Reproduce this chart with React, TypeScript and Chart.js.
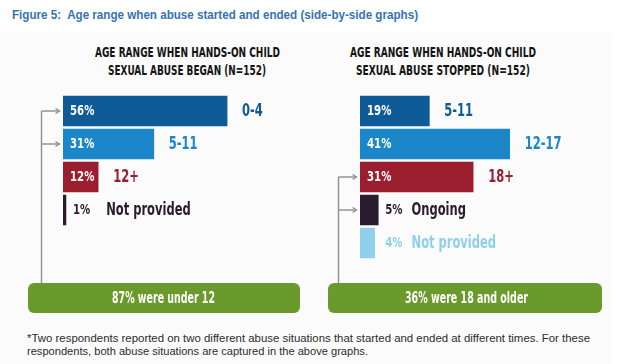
import React, { useEffect, useLayoutEffect, useRef } from "react";
import { Chart, registerables } from "chart.js";

Chart.register(...registerables);

// ---------- data ----------
const figureTitle = "Figure 5:  Age range when abuse started and ended (side-by-side graphs)";

const leftTitleLines = ["AGE RANGE WHEN HANDS-ON CHILD", "SEXUAL ABUSE BEGAN (N=152)"];
const leftCategories = ["0-4", "5-11", "12+", "Not provided"];
const leftValues = [56, 31, 12, 1];
const leftBracket = ["0-4", "5-11"];
const leftSummary = "87% were under 12";

const rightTitleLines = ["AGE RANGE WHEN HANDS-ON CHILD", "SEXUAL ABUSE STOPPED (N=152)"];
const rightCategories = ["5-11", "12-17", "18+", "Ongoing", "Not provided"];
const rightValues = [19, 41, 31, 5, 4];
const rightBracket = ["18+", "Ongoing"];
const rightSummary = "36% were 18 and older";

const footnoteLines = [
  "*Two respondents reported on two different abuse situations that started and ended at different times. For these",
  "respondents, both abuse situations are captured in the above graphs.",
];

// ---------- styles ----------
const DARK_BLUE = "#0f5b98";
const MID_BLUE = "#1b87c9";
const DARK_RED = "#9b1e2f";
const DARK_PURPLE = "#2a1b2f";
const LIGHT_BLUE = "#8fd1eb";
const GREEN = "#6a992c";

const leftColors = [DARK_BLUE, MID_BLUE, DARK_RED, DARK_PURPLE];
const rightColors = [DARK_BLUE, MID_BLUE, DARK_RED, DARK_PURPLE, LIGHT_BLUE];

const COND = "'DejaVu Sans Condensed', 'DejaVu Sans', sans-serif";

function condText(
  ctx: CanvasRenderingContext2D,
  text: string,
  x: number,
  y: number,
  size: number,
  color: string,
  sx: number
) {
  ctx.save();
  ctx.font = `bold ${size}px ${COND}`;
  ctx.fillStyle = color;
  ctx.textBaseline = "middle";
  ctx.textAlign = "left";
  ctx.translate(x, y);
  ctx.scale(sx, 1);
  ctx.fillText(text, 0, 0);
  const w = ctx.measureText(text).width * sx;
  ctx.restore();
  return w;
}

function makeLabelPlugin(colors: string[], bracket: string[], gapOut: number) {
  return {
    id: "barLabels",
    afterDatasetsDraw(chart: any) {
      const ctx: CanvasRenderingContext2D = chart.ctx;
      const meta = chart.getDatasetMeta(0);
      const area = chart.chartArea;
      const values = chart.data.datasets[0].data as number[];
      const labels = chart.data.labels as string[];
      const bars = meta.data.map((b: any) => b.getProps(["x", "y", "base"], true));
      let outX = 0;
      bars.forEach((b: any) => {
        if (b.x - b.base < 30) outX = Math.max(outX, b.x + 7);
      });
      bars.forEach((b: any, i: number) => {
        const w = b.x - b.base;
        const pct = values[i] + "%";
        let catX: number;
        if (w >= 30) {
          condText(ctx, pct, b.base + 7, b.y + 0.5, 14.5, "#ffffff", 0.78);
          catX = b.x + 15;
        } else {
          const pw = condText(ctx, pct, outX, b.y + 0.5, 14.5, colors[i], 0.78);
          catX = outX + pw + gapOut;
        }
        condText(ctx, labels[i], catX, b.y + 0.5, 17.5, colors[i], 0.73);
      });
      // bracket connectors
      const idx = bracket.map((l) => labels.indexOf(l));
      const lx = area.left - 21.5;
      const topY = bars[idx[0]].y;
      ctx.save();
      ctx.strokeStyle = "#8f8f8f";
      ctx.lineWidth = 1.4;
      ctx.beginPath();
      ctx.moveTo(lx, topY);
      ctx.lineTo(lx, chart.height);
      ctx.stroke();
      idx.forEach((k) => {
        const y = bars[k].y;
        ctx.beginPath();
        ctx.moveTo(lx, y);
        ctx.lineTo(area.left - 4, y);
        ctx.stroke();
        ctx.beginPath();
        ctx.moveTo(area.left - 7.5, y - 2.5);
        ctx.lineTo(area.left - 3.5, y);
        ctx.lineTo(area.left - 7.5, y + 2.5);
        ctx.stroke();
      });
      ctx.restore();
    },
  };
}

type BarChartProps = {
  categories: string[];
  values: number[];
  colors: string[];
  bracket: string[];
  left: number;
  top: number;
  width: number;
  height: number;
  padLeft: number;
  padTop: number;
  padBottom: number;
  max: number;
  pxPer: number;
  gapOut: number;
};

function BarChart(p: BarChartProps) {
  const ref = useRef<HTMLCanvasElement>(null);
  useEffect(() => {
    if (!ref.current) return;
    const padRight = p.width - p.padLeft - p.max * p.pxPer;
    const chart = new Chart(ref.current, {
      type: "bar",
      data: {
        labels: p.categories,
        datasets: [
          {
            data: p.values,
            backgroundColor: p.colors,
            borderWidth: 0,
            barThickness: 30,
          },
        ],
      },
      options: {
        indexAxis: "y",
        animation: false,
        responsive: false,
        maintainAspectRatio: false,
        devicePixelRatio: 1,
        layout: {
          padding: { left: p.padLeft, right: padRight, top: p.padTop, bottom: p.padBottom },
        },
        scales: {
          x: { display: false, min: 0, max: p.max },
          y: { display: false },
        },
        plugins: {
          legend: { display: false },
          tooltip: { enabled: false },
          title: { display: false },
        },
      } as any,
      plugins: [makeLabelPlugin(p.colors, p.bracket, p.gapOut)],
    });
    return () => chart.destroy();
  }, []);
  return (
    <canvas
      ref={ref}
      width={p.width}
      height={p.height}
      style={{ position: "absolute", left: p.left, top: p.top, width: p.width, height: p.height }}
    />
  );
}

function FitText({
  text,
  width,
  left,
  cy,
  lineHeight,
  style,
}: {
  text: string;
  width: number;
  left: number;
  cy: number;
  lineHeight: number;
  style: React.CSSProperties;
}) {
  const ref = useRef<HTMLSpanElement>(null);
  useLayoutEffect(() => {
    const el = ref.current;
    if (!el) return;
    el.style.transform = "none";
    const w = el.getBoundingClientRect().width;
    if (w > 0) el.style.transform = `scaleX(${width / w})`;
  }, [text, width]);
  return (
    <span
      ref={ref}
      style={{
        position: "absolute",
        left,
        top: cy - lineHeight / 2,
        lineHeight: lineHeight + "px",
        height: lineHeight,
        display: "inline-block",
        whiteSpace: "pre",
        transformOrigin: "left center",
        ...style,
      }}
    >
      {text}
    </span>
  );
}

const chartTitleStyle: React.CSSProperties = {
  fontFamily: COND,
  fontWeight: "bold",
  fontSize: 14.5,
  color: "#141414",
};
const summaryStyle: React.CSSProperties = {
  fontFamily: COND,
  fontWeight: "bold",
  fontSize: 15.5,
  color: "#ffffff",
};
const footStyle: React.CSSProperties = {
  fontFamily: "'Liberation Sans', Arial, sans-serif",
  fontSize: 11.5,
  color: "#2b2b2b",
};

export default function App() {
  const leftTitleW = [185, 158];
  const rightTitleW = [186, 174];
  return (
    <div
      style={{
        position: "absolute",
        left: 0,
        top: 0,
        width: 623,
        height: 364,
        background: "#ffffff",
        overflow: "hidden",
      }}
    >
      <div style={{ position: "absolute", left: 0, top: 33, width: 612, height: 331, background: "#fbfbfb" }} />
      <FitText
        text={figureTitle}
        width={406}
        left={12}
        cy={15}
        lineHeight={16}
        style={{ fontFamily: "'Liberation Sans', Arial, sans-serif", fontWeight: "bold", fontSize: 12, color: "#3573b1" }}
      />
      {leftTitleLines.map((t, i) => (
        <FitText key={"lt" + i} text={t} width={leftTitleW[i]} left={187 - leftTitleW[i] / 2} cy={52.5 + i * 17.5} lineHeight={17} style={chartTitleStyle} />
      ))}
      {rightTitleLines.map((t, i) => (
        <FitText key={"rt" + i} text={t} width={rightTitleW[i]} left={443 - rightTitleW[i] / 2} cy={52.5 + i * 17.5} lineHeight={17} style={chartTitleStyle} />
      ))}
      <BarChart
        categories={leftCategories}
        values={leftValues}
        colors={leftColors}
        bracket={leftBracket}
        left={0}
        top={85}
        width={310}
        height={199}
        padLeft={63}
        padTop={9.5}
        padBottom={57.5}
        max={80}
        pxPer={2.93}
        gapOut={16}
      />
      <BarChart
        categories={rightCategories}
        values={rightValues}
        colors={rightColors}
        bracket={rightBracket}
        left={310}
        top={85}
        width={313}
        height={199}
        padLeft={50}
        padTop={9.5}
        padBottom={24.5}
        max={60}
        pxPer={3.65}
        gapOut={9}
      />
      <div style={{ position: "absolute", left: 28, top: 283, width: 272, height: 30, background: GREEN, borderRadius: 6 }} />
      <div style={{ position: "absolute", left: 328, top: 283, width: 274, height: 30, background: GREEN, borderRadius: 6 }} />
      <FitText text={leftSummary} width={103} left={163 - 103 / 2} cy={298} lineHeight={17} style={summaryStyle} />
      <FitText text={rightSummary} width={123} left={466 - 123 / 2} cy={298} lineHeight={17} style={summaryStyle} />
      <FitText text={footnoteLines[0]} width={563} left={27} cy={338} lineHeight={13} style={footStyle} />
      <FitText text={footnoteLines[1]} width={341} left={27} cy={351} lineHeight={13} style={footStyle} />
    </div>
  );
}
